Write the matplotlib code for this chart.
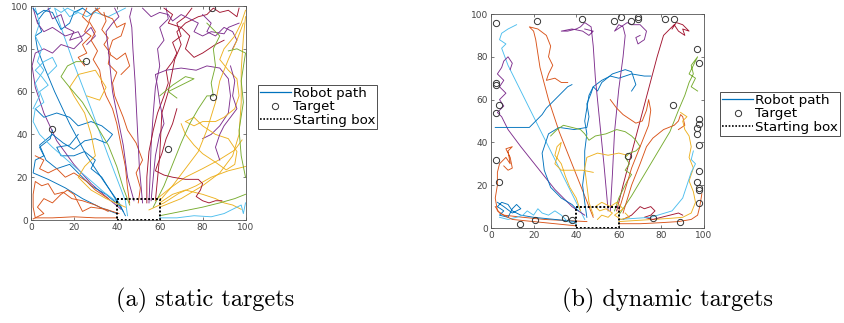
import matplotlib
matplotlib.use('Agg')
import matplotlib.pyplot as plt
from matplotlib.lines import Line2D

# MATLAB default line colours
COLORS = ['#0072BD', '#D95319', '#EDB120', '#7E2F8E', '#77AC30', '#4DBEEE', '#A2142F']
TICKS = [0, 20, 40, 60, 80, 100]
BOX_X = [40, 60, 60, 40, 40]
BOX_Y = [0, 0, 10, 10, 0]
LEGEND_LABELS = ['Robot path', 'Target', 'Starting box']
CAPTIONS = ['(a) static targets', '(b) dynamic targets']

# ---------------- (a) static targets ----------------
a_target_x = [84.6, 25.8, 9.9, 63.8, 84.9]
a_target_y = [99.2, 74.3, 42.5, 33.3, 57.5]

a_cyan1 = [(45, 2), (44, 9), (36, 30), (28, 52), (20, 73), (14, 90), (11, 99), (14, 97), (17, 99), (21, 97), (24, 99)]
a_blue1 = [(44, 2), (41, 8), (34, 18), (26, 30), (18, 45), (11, 60), (6, 72), (3, 80), (2, 86), (5, 88), (3, 93), (6, 97), (9, 99)]
a_purple1 = [(42, 5), (36, 10), (28, 17), (20, 26), (12, 37), (6, 50), (2, 62), (0.5, 72), (2, 78), (6, 80), (10, 78),
             (14, 82), (20, 80), (24, 84), (22, 88), (16, 86), (10, 90), (6, 88), (3, 92), (1, 99)]
a_blue2 = [(40, 3), (32, 6), (24, 10), (16, 15), (8, 19), (1, 22), (2, 28), (6, 30), (4, 34), (9, 38), (10, 42)]
a_blue3 = [(42, 6), (35, 12), (28, 16), (22, 22), (18, 26), (12, 24), (7, 28), (4, 35), (10, 40), (15, 36), (20, 33),
           (25, 37), (30, 38), (35, 36), (38, 40), (33, 44), (28, 46), (22, 44), (18, 48), (12, 50), (6, 48), (2, 52)]
a_blue4 = [(43, 4), (38, 12), (33, 20), (28, 24), (30, 28), (25, 32), (20, 30), (14, 30), (12, 34), (18, 35), (22, 40)]
a_orange1 = [(40, 1), (30, 1), (20, 1.5), (10, 1), (2, 1), (1, 6), (1, 12), (2, 18), (5, 16), (8, 17), (11, 12), (15, 13),
             (19, 10), (24, 9), (30, 7), (36, 4)]
a_orange2 = [(41, 3), (35, 5), (28, 6), (24, 4), (22, 8), (20, 12), (17, 14), (14, 12), (10, 8), (6, 10), (3, 6), (6, 3), (1, 0.5)]
a_orange3 = [(2, 30), (6, 28), (4, 24), (8, 22), (12, 24), (16, 20), (20, 22), (26, 18), (30, 14), (36, 10)]
a_cyan2 = [(42, 7), (34, 13), (26, 20), (18, 27), (10, 34), (4, 40), (1, 46), (2, 52), (6, 55), (4, 60), (8, 63), (5, 67),
           (2, 70), (6, 74), (10, 76), (12, 72), (8, 68)]
a_cyan3 = [(2, 99), (4, 92), (2, 86), (5, 80), (3, 74), (6, 70), (2, 64), (4, 58), (1, 52)]
a_cyan5 = [(15, 99), (18, 95), (22, 97), (26, 95), (30, 97), (36, 95), (40, 97), (44, 99)]
a_blue5 = [(1, 99), (3, 96), (6, 98), (10, 97), (12, 93), (14, 89), (18, 92), (20, 97), (24, 99), (28, 96), (31, 99)]
a_purple8 = [(8, 99), (10, 94), (14, 96), (16, 90), (20, 88), (18, 84), (24, 86), (28, 90), (30, 86), (26, 82)]
a_orange4 = [(46, 8), (45, 15), (44, 25), (42, 35), (40, 45), (38, 52), (35, 58), (33, 64), (32, 70), (29, 75), (31, 79),
             (28, 84), (30, 88), (27, 93), (29, 97), (32, 99)]
a_orange5 = [(50, 8), (51, 15), (49, 22), (52, 28), (49, 36), (45, 42), (43, 48), (41, 53), (39, 58), (38, 64), (40, 69),
             (36, 73), (37, 78), (34, 82), (36, 85), (33, 89), (35, 93), (34, 97)]
a_orange6 = [(30, 99), (33, 96), (38, 94), (40, 90), (44, 92), (42, 86), (38, 84), (36, 78), (40, 75), (44, 78), (46, 72), (42, 68)]
a_orange7 = [(26, 99), (24, 95), (27, 92), (25, 88), (28, 86), (24, 82), (26, 78), (22, 76), (25, 72)]
a_purple2 = [(52, 8), (50.5, 25), (49.5, 45), (48.5, 65), (47.5, 80), (47, 90), (46, 95), (47, 99)]
a_purple3 = [(55, 8), (55.5, 20), (56, 35), (57, 50), (58, 62), (60, 72), (59, 80), (62, 84), (60, 90), (64, 94), (63, 99)]
a_red1 = [(54, 8), (54, 20), (55, 32), (57, 42), (59, 50), (62, 58), (64, 64), (63, 70), (66, 74), (68, 78), (66, 83),
          (70, 86), (68, 92), (72, 95), (75, 99)]
a_purple4 = [(48, 9), (45, 20), (43, 35), (40, 50), (38, 60), (37, 70), (36, 80), (35, 88), (38, 92), (41, 95), (39, 99)]
a_purple5 = [(56, 9), (57, 20), (58, 30), (60, 40), (62, 45), (60, 55), (59, 62), (58, 68), (63, 70), (70, 71), (77, 70),
             (82, 72), (88, 71), (92, 66), (93, 58), (92, 50), (88, 44), (84, 40), (80, 38)]
a_red2 = [(58, 9), (60, 30), (61, 50), (64, 60), (67, 75), (70, 82), (68, 88), (72, 92), (78, 95), (82, 96), (85, 99),
          (88, 97), (92, 98), (96, 95), (97, 99)]
a_red4 = [(62, 99), (66, 96), (64, 92), (70, 90), (74, 86), (72, 80), (76, 76), (80, 78), (86, 82), (90, 84)]
a_purple6 = [(52, 99), (56, 95), (60, 97), (64, 96), (66, 93), (70, 96), (74, 94), (78, 92), (76, 88), (80, 86), (84, 88),
             (90, 87), (92, 90), (97, 92)]
a_purple9 = [(80, 96), (84, 92), (82, 88), (86, 86), (90, 90), (94, 88), (96, 84), (94, 80)]
a_yellow1 = [(60, 6), (70, 10), (80, 16), (88, 22), (94, 30), (97, 40), (98, 55), (98, 70), (99, 85), (100, 95)]
a_yellow2 = [(60, 9), (66, 16), (72, 24), (78, 32), (82, 42), (86, 55), (88, 65), (92, 75), (96, 84), (99, 92)]
a_yellow3 = [(55, 4.7), (62, 8), (69, 12.5), (77, 16), (84, 20), (92, 23), (100, 25)]
a_yellow4 = [(58, 9.3), (65, 15), (72, 20), (80, 24), (87.5, 28), (95, 32.7), (98.4, 37.4)]
a_yellow5 = [(70, 45), (72, 40), (76, 35), (80, 31), (86, 27), (91, 23.4), (95, 26), (96, 32), (92, 38), (86, 40), (80, 44),
             (76, 48), (72, 46)]
a_yellow6 = [(100, 98), (98, 92), (95, 86), (90, 80), (88, 75), (92, 70), (96, 66), (97, 58), (95, 52), (90, 48), (86, 46),
             (80, 46), (76, 44), (72, 46)]
a_yellow7 = [(44, 6), (35, 10), (28, 14), (22, 20), (25, 25), (30, 30), (28, 40), (25, 50), (20, 58), (18, 62), (22, 68),
             (30, 70), (35, 62), (32, 56), (26, 58)]
a_yellow8 = [(60, 8), (66, 12), (72, 14), (80, 12), (86, 10), (90, 8), (94, 7), (98, 5)]
a_green1 = [(57, 6), (62, 16), (66, 26), (70, 36), (74, 45), (78, 52), (82, 58), (85, 58), (84, 64), (86, 72), (85, 80),
            (88, 86), (84, 90), (82, 92)]
a_green2 = [(60, 2), (70, 4), (80, 6), (88, 8), (95, 10), (100, 12)]
a_green3 = [(46, 7), (43, 15), (40, 25), (36, 35), (30, 45), (24, 55), (18, 62), (14, 67), (17, 72), (21, 74), (25, 74)]
a_green4 = [(60, 58), (66, 63), (72, 67), (76, 66), (70, 63), (64, 60), (68, 57)]
a_green5 = [(100, 20), (98, 30), (97, 42), (99, 55), (98, 65), (100, 78), (96, 80), (92, 79)]
a_cyan4 = [(60, 1), (68, 1), (76, 2), (84, 1.5), (90, 3), (94, 5), (98, 7), (99, 3), (100, 8)]
a_red3 = [(68, 52), (66, 45), (63, 38), (61, 31), (59, 26), (58, 23), (62, 21), (66, 20), (72, 19), (78, 19), (80, 17),
          (79, 14), (77, 11), (80, 9), (83, 8), (86, 9), (89, 9)]
a_purple7 = [(93, 72), (95, 65), (94, 58), (96, 52), (93, 48), (90, 44), (88, 40), (86, 34), (88, 28)]

a_paths = [(a_cyan1, 5), (a_blue1, 0), (a_purple1, 3), (a_blue2, 0), (a_blue3, 0), (a_blue4, 0),
           (a_orange1, 1), (a_orange2, 1), (a_orange3, 1), (a_cyan2, 5), (a_cyan3, 5), (a_cyan5, 5), (a_blue5, 0),
           (a_purple8, 3), (a_orange4, 1), (a_orange5, 1), (a_orange6, 1), (a_orange7, 1), (a_purple2, 3),
           (a_purple3, 3), (a_red1, 6), (a_purple4, 3), (a_purple5, 3), (a_red2, 6), (a_red4, 6), (a_purple6, 3),
           (a_purple9, 3), (a_yellow1, 2), (a_yellow2, 2), (a_yellow3, 2), (a_yellow4, 2), (a_yellow5, 2),
           (a_yellow6, 2), (a_yellow7, 2), (a_yellow8, 2), (a_green1, 4), (a_green2, 4), (a_green3, 4),
           (a_green4, 4), (a_green5, 4), (a_cyan4, 5), (a_red3, 6), (a_purple7, 3)]

# ---------------- (b) dynamic targets ----------------
b_target_x = [2.5, 21.6, 42.8, 57.7, 60.8, 65.8, 68.8, 68.8, 81.9, 85.9, 96.9, 97.8, 85.3, 2.5, 2.5, 3.6, 2.5,
              97.8, 97.8, 96.9, 96.9, 97.8, 64.1, 2.5, 3.6, 97.8, 96.9, 97.8, 97.8, 97.8, 13.6, 20.6, 34.7, 37.8,
              75.9, 88.8]
b_target_y = [96.0, 96.9, 97.7, 96.9, 98.8, 96.9, 98.8, 97.5, 97.8, 97.7, 83.8, 76.9, 57.7, 67.7, 66.8, 57.7, 53.8,
              50.9, 48.8, 46.8, 43.7, 38.7, 33.7, 31.7, 21.7, 26.7, 21.7, 18.7, 17.6, 11.9, 1.7, 3.9, 4.5, 3.9,
              4.8, 2.8]

b_cyan1 = [(44, 4), (42, 8), (33, 26), (24, 44), (15, 62), (8, 76), (5, 84), (7, 86), (4, 88), (5, 91), (8, 93), (10, 94), (12, 95)]
b_orange1 = [(48, 5), (44, 15), (38, 30), (32, 45), (27, 60), (23, 75), (21, 88), (20, 92), (18, 94), (22, 93), (26, 90),
             (28, 85), (27, 80), (29, 76), (27, 72), (26, 69), (30, 70), (33, 68), (36, 68)]
b_purple1 = [(44, 6), (38, 10), (30, 18), (22, 28), (14, 38), (8, 46), (5, 52), (3, 54), (6, 57), (4, 60), (7, 63),
             (4, 66), (6, 69), (3, 72), (5, 75), (6, 78), (8, 80), (10, 77), (9, 74)]
b_orange2 = [(45, 3), (35, 3.5), (25, 4), (15, 5), (6, 6), (3, 8), (2, 14), (3, 20), (3, 26), (4, 30), (7, 33), (9, 30),
             (8, 36), (10, 38), (7, 37), (9, 33), (10, 28), (8, 27), (6, 29)]
b_blue1 = [(40, 3), (30, 4), (20, 5), (14, 6), (10, 8), (8, 11), (5, 12), (3, 10), (6, 8), (4, 6), (8, 5), (10, 9),
           (12, 11), (14, 9), (10, 7), (6, 10), (3, 12)]
b_cyan2 = [(40, 2), (36, 3), (33, 6), (30, 8), (27, 6), (24, 7), (22, 9), (20, 6), (17, 8), (15, 6), (12, 5), (8, 4), (4, 5)]
b_orange3 = [(40, 1), (30, 2), (20, 3), (10, 4), (4, 7), (2, 10)]
b_blue2 = [(41, 8), (38, 11), (33, 14), (28, 19), (25, 27), (24, 35), (27, 44), (32, 47), (39, 46), (45, 47), (46, 52),
           (45, 58), (47, 63), (48, 66), (52, 69), (56, 71), (60, 70), (66, 72), (72, 71), (75, 71)]
b_blue3 = [(45, 5), (44, 12), (43, 20), (44, 28), (44, 36), (45, 44), (44, 50), (45, 56), (46, 62), (48, 66), (50, 64),
           (52, 68), (57, 72), (63, 74), (66, 73), (68, 67), (66, 64)]
b_blue4 = [(2, 47), (8, 47), (14, 47), (18, 47), (21, 50), (24, 53), (26, 56), (30, 60), (34, 64), (36, 66), (38, 67)]
b_purple2 = [(55, 8), (53, 30), (51, 50), (49, 70), (48, 85), (47, 94), (44, 96), (42, 94), (40, 93), (36, 92), (33, 92),
             (38, 93), (43, 92), (46, 90), (48, 92), (44, 93)]
b_purple3 = [(56, 8), (57, 25), (58, 45), (60, 65), (62, 80), (63, 90), (62, 94), (60, 95), (58, 92), (64, 96), (66, 95),
             (70, 95), (73, 92), (72, 88), (69, 86), (68, 89), (70, 90)]
b_red1 = [(59, 8), (62, 20), (66, 35), (70, 50), (74, 65), (78, 80), (81, 90), (84, 93), (86, 95), (88, 92), (91, 90),
          (90, 93), (93, 92), (90, 95), (87, 96), (85, 93)]
b_green1 = [(60, 6), (66, 15), (72, 25), (78, 35), (84, 45), (88, 55), (91, 62), (93, 68), (95, 72), (94, 76), (97, 80),
            (95, 76), (93, 72), (96, 70), (94, 66), (97, 64)]
b_green2 = [(58, 8), (60, 14), (64, 22), (66, 25), (63, 27), (65, 30), (63, 33), (65, 35), (68, 36), (70, 38), (68, 41),
            (66, 43), (63, 45), (59, 46), (54, 44), (49, 43), (46, 41), (44, 44), (42, 46), (38, 47), (34, 48), (31, 46), (28, 43)]
b_yellow1 = [(42, 8), (40, 14), (37, 19), (35, 24), (33, 30), (30, 34), (31, 38), (33, 40), (32, 36), (30, 30), (33, 27),
             (38, 27), (43, 27), (48, 26)]
b_yellow2 = [(48, 6), (46, 12), (45, 20), (44, 28), (45, 33), (50, 35), (55, 34), (60, 35), (64, 34)]
b_orange4 = [(60, 8), (63, 18), (66, 28), (70, 38), (74, 48), (75, 55), (74, 60), (73, 55), (71, 50), (68, 49), (65, 51),
             (62, 53), (59, 56), (56, 60)]
b_orange5 = [(62, 7), (66, 20), (70, 30), (73, 38), (76, 42), (81, 46), (86, 48), (88, 50), (89, 53), (90, 52), (91, 48), (88, 46)]
b_yellow3 = [(60, 3), (68, 3.5), (76, 4), (84, 4.5), (90, 5), (94, 7), (96, 12), (95, 17), (93, 22), (95, 28), (93, 33),
             (94, 38), (93, 43), (91, 46), (90, 50), (92, 52), (89, 54)]
b_red2 = [(62, 4), (66, 6), (68, 8), (70, 10), (72, 9), (75, 10), (77, 8), (75, 6), (72, 5), (76, 4), (80, 5), (84, 6),
          (88, 7), (90, 6)]
b_orange6 = [(60, 2), (70, 2), (80, 2.5), (88, 3), (94, 4), (97, 6), (98, 10), (99, 16)]
b_cyan3 = [(60, 4), (75, 5), (85, 8), (90, 14), (92, 20), (94, 26), (96, 30), (94, 32), (95, 36)]
b_yellow4 = [(50, 4), (52, 6), (55, 5), (57, 7), (54, 9), (51, 8), (49, 10), (52, 12), (56, 10), (59, 12), (62, 9),
             (58, 6), (61, 4), (65, 5), (63, 7)]

b_paths = [(b_cyan1, 5), (b_orange1, 1), (b_purple1, 3), (b_orange2, 1), (b_blue1, 0), (b_cyan2, 5), (b_orange3, 1),
           (b_blue2, 0), (b_blue3, 0), (b_blue4, 0), (b_purple2, 3), (b_purple3, 3), (b_red1, 6), (b_green1, 4),
           (b_green2, 4), (b_yellow1, 2), (b_yellow2, 2), (b_orange4, 1), (b_orange5, 1), (b_yellow3, 2),
           (b_red2, 6), (b_orange6, 1), (b_cyan3, 5), (b_yellow4, 2)]


def draw_panel(ax, paths, tx, ty):
    for pts, ci in paths:
        xs = [p[0] for p in pts]
        ys = [p[1] for p in pts]
        ax.plot(xs, ys, color=COLORS[ci], lw=0.65)
    ax.plot(tx, ty, 'o', mfc='none', mec='#333333', ms=4.5, mew=0.7, ls='none')
    ax.plot(BOX_X, BOX_Y, color='black', lw=1.4, ls=(0, (1, 1)), clip_on=False)
    ax.set_xlim(0, 100)
    ax.set_ylim(0, 100)
    ax.set_xticks(TICKS)
    ax.set_yticks(TICKS)
    ax.tick_params(direction='in', length=2.5, width=0.5, labelsize=6.5, colors='#444444',
                   top=True, right=True, pad=2)
    for s in ax.spines.values():
        s.set_color('#555555')
        s.set_linewidth(0.6)


def make_handles():
    return [Line2D([], [], color=COLORS[0], lw=0.9),
            Line2D([], [], marker='o', mfc='none', mec='#333333', ms=4.5, mew=0.7, ls='none'),
            Line2D([], [], color='black', lw=1.2, ls=(0, (1, 1)))]


fig = plt.figure(figsize=(8.44, 3.23), dpi=100)
ax1 = fig.add_axes([31 / 844, 1 - 220 / 323, 214.5 / 844, 214 / 323])
ax2 = fig.add_axes([491 / 844, 1 - 228 / 323, 213 / 844, 214 / 323])
draw_panel(ax1, a_paths, a_target_x, a_target_y)
draw_panel(ax2, b_paths, b_target_x, b_target_y)

for (lx, ly, fs) in [(258 / 844, 1 - 85 / 323, 9.6), (720 / 844, 1 - 92 / 323, 9.7)]:
    leg = fig.legend(make_handles(), LEGEND_LABELS, loc='upper left', bbox_to_anchor=(lx, ly), fontsize=fs,
                     frameon=True, fancybox=False, edgecolor='#222222', handlelength=2.3, handletextpad=0.15,
                     borderpad=0.15, labelspacing=0.02, borderaxespad=0)
    leg.get_frame().set_linewidth(0.7)

fig.text(205 / 844, 1 - 300 / 323, CAPTIONS[0], family='cmr10', fontsize=17.5, ha='center', va='center')
fig.text(668 / 844, 1 - 300 / 323, CAPTIONS[1], family='cmr10', fontsize=17.5, ha='center', va='center')

fig.savefig('out.png', dpi=100)
